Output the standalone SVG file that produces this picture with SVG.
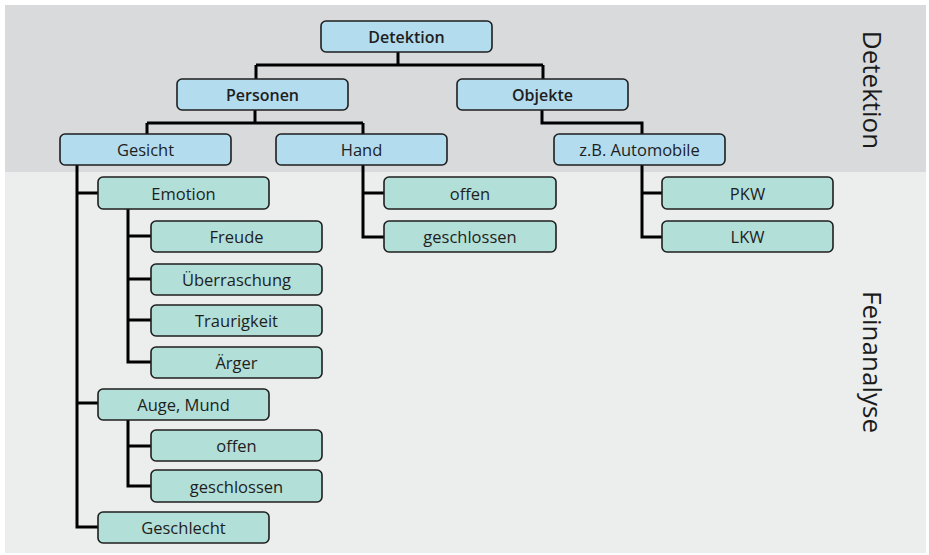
<svg xmlns="http://www.w3.org/2000/svg" width="929" height="555" viewBox="0 0 929 555">
<style>
.b{fill:#b3dcee;stroke:#1e1e1e;stroke-width:1.6}
.g{fill:#b2dfd8;stroke:#1e1e1e;stroke-width:1.6}
text{font-family:"Open Sans","Noto Sans","Liberation Sans",sans-serif;font-size:16.5px;fill:#1e1e1e;text-anchor:middle;dominant-baseline:central}
.h{font-weight:600;font-size:16px}
.side{font-size:26px;fill:#1a1a1a}
.c{fill:none;stroke:#000;stroke-width:3;stroke-linejoin:miter}
</style>
<rect x="0" y="0" width="929" height="555" fill="#ffffff"/>
<rect x="5" y="5" width="921" height="167" fill="#d9dadc"/>
<rect x="5" y="172" width="921" height="381" fill="#eceded"/>
<text class="side" transform="translate(873,90) rotate(90)">Detektion</text>
<text class="side" transform="translate(873,362) rotate(90)">Feinanalyse</text>
<g id="connectors">
<path class="c" d="M398,52 V65 M256,65 H543 M256,65 V79 M543,65 V79"/>
<path class="c" d="M255,110 V123 M147,123 H363 M147,123 V134 M363,123 V134"/>
<path class="c" d="M542,110 V123 H642 V134"/>
<path class="c" d="M77,165 V527 H98 M77,193 H98 M77,403 H98"/>
<path class="c" d="M128,209 V362 H151 M128,236 H151 M128,279 H151 M128,320 H151"/>
<path class="c" d="M128,420 V486 H151 M128,446 H151"/>
<path class="c" d="M363,165 V237 H384 M363,193 H384"/>
<path class="c" d="M642,165 V237 H662 M642,193 H662"/>
</g>
<g id="n-detektion"><rect class="b" x="321" y="21" width="171" height="31" rx="5"/><text class="h" x="406.5" y="36.5">Detektion</text></g>
<g id="n-personen"><rect class="b" x="177" y="79" width="171" height="31" rx="5"/><text class="h" x="262.5" y="94.5">Personen</text></g>
<g id="n-objekte"><rect class="b" x="457" y="79" width="171" height="31" rx="5"/><text class="h" x="542.5" y="94.5">Objekte</text></g>
<g id="n-gesicht"><rect class="b" x="60" y="134" width="171" height="31" rx="5"/><text x="145.5" y="149.5">Gesicht</text></g>
<g id="n-hand"><rect class="b" x="276" y="134" width="171" height="31" rx="5"/><text x="361.5" y="149.5">Hand</text></g>
<g id="n-auto"><rect class="b" x="554" y="134" width="171" height="31" rx="5"/><text x="639.5" y="149.5">z.B. Automobile</text></g>
<g id="n-emotion"><rect class="g" x="98" y="177" width="171" height="32" rx="5"/><text x="183.5" y="193">Emotion</text></g>
<g id="n-freude"><rect class="g" x="151" y="221" width="171" height="31" rx="5"/><text x="236.5" y="236.5">Freude</text></g>
<g id="n-ueberraschung"><rect class="g" x="151" y="264" width="171" height="31" rx="5"/><text x="236.5" y="279.5">Überraschung</text></g>
<g id="n-traurigkeit"><rect class="g" x="151" y="305" width="171" height="31" rx="5"/><text x="236.5" y="320.5">Traurigkeit</text></g>
<g id="n-aerger"><rect class="g" x="151" y="347" width="171" height="31" rx="5"/><text x="236.5" y="362.5">Ärger</text></g>
<g id="n-augemund"><rect class="g" x="98" y="389" width="171" height="31" rx="5"/><text x="183.5" y="404.5">Auge, Mund</text></g>
<g id="n-offen1"><rect class="g" x="151" y="430" width="171" height="31" rx="5"/><text x="236.5" y="445.5">offen</text></g>
<g id="n-geschlossen1"><rect class="g" x="151" y="470" width="171" height="32" rx="5"/><text x="236.5" y="486">geschlossen</text></g>
<g id="n-geschlecht"><rect class="g" x="98" y="512" width="171" height="31" rx="5"/><text x="183.5" y="527.5">Geschlecht</text></g>
<g id="n-offen2"><rect class="g" x="384" y="177" width="172" height="32" rx="5"/><text x="470" y="193">offen</text></g>
<g id="n-geschlossen2"><rect class="g" x="384" y="221" width="172" height="31" rx="5"/><text x="470" y="236.5">geschlossen</text></g>
<g id="n-pkw"><rect class="g" x="662" y="177" width="171" height="32" rx="5"/><text x="747.5" y="193">PKW</text></g>
<g id="n-lkw"><rect class="g" x="662" y="221" width="171" height="31" rx="5"/><text x="747.5" y="236.5">LKW</text></g>
</svg>
